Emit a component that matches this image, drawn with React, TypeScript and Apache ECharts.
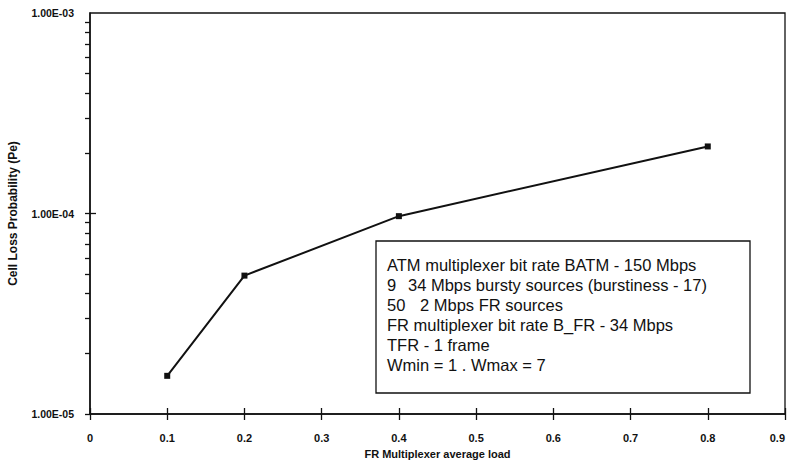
import React, { useEffect, useRef } from "react";
import * as echarts from "echarts";

const xValues = [0.1, 0.2, 0.4, 0.8];
const cellLoss = [1.55e-5, 4.9e-5, 9.7e-5, 2.16e-4];
const xTickValues = [0, 0.1, 0.2, 0.3, 0.4, 0.5, 0.6, 0.7, 0.8, 0.9];
const xTickLabels = ["0", "0.1", "0.2", "0.3", "0.4", "0.5", "0.6", "0.7", "0.8", "0.9"];
const yMajorValues = [1e-5, 1e-4, 1e-3];
const yTickLabels = ["1.00E-05", "1.00E-04", "1.00E-03"];
const yMinorValues = [
  2e-5, 3e-5, 4e-5, 5e-5, 6e-5, 7e-5, 8e-5, 9e-5,
  2e-4, 3e-4, 4e-4, 5e-4, 6e-4, 7e-4, 8e-4, 9e-4,
];
const xAxisTitle = "FR Multiplexer average load";
const yAxisTitle = "Cell Loss Probability (Pe)";
const noteLines: [string, string][] = [
  ["ATM multiplexer bit rate BATM - 150 Mbps", ""],
  ["9", "34 Mbps bursty sources (burstiness - 17)"],
  ["50", "2 Mbps FR sources"],
  ["FR multiplexer bit rate B_FR - 34 Mbps", ""],
  ["TFR - 1 frame", ""],
  ["Wmin = 1 . Wmax = 7", ""],
];

const FONT = "'Liberation Sans', Arial, sans-serif";

export default function App() {
  const ref = useRef<HTMLDivElement>(null);
  useEffect(() => {
    if (!ref.current) return;
    const chart = echarts.init(ref.current, undefined, { renderer: "svg" });

    const noteChildren: any[] = [
      {
        type: "rect",
        shape: { x: 0, y: 0, width: 374, height: 152 },
        style: { fill: "#fff", stroke: "#111", lineWidth: 1.3 },
      },
    ];
    const secondX = [0, 21, 33, 0, 0, 0];
    noteLines.forEach((ln, i) => {
      noteChildren.push({
        type: "text",
        x: 11,
        y: 24 + i * 20,
        style: {
          text: ln[0],
          font: `16.5px ${FONT}`,
          fill: "#111",
          textVerticalAlign: "middle",
        },
      });
      if (ln[1]) {
        noteChildren.push({
          type: "text",
          x: 11 + secondX[i],
          y: 24 + i * 20,
          style: {
            text: ln[1],
            font: `16.5px ${FONT}`,
            fill: "#111",
            textVerticalAlign: "middle",
          },
        });
      }
    });

    const axisText = { fontFamily: FONT, fontWeight: "bold" as const, color: "#111" };

    chart.setOption({
      animation: false,
      backgroundColor: "#fff",
      grid: {
        left: 90,
        right: 6,
        top: 13,
        bottom: 48,
        containLabel: false,
        outerBoundsMode: "none",
        show: true,
        borderColor: "#111",
        borderWidth: 1.3,
        backgroundColor: "transparent",
      },
      xAxis: [
        {
          type: "value",
          min: 0,
          max: 0.9,
          interval: 0.1,
          name: xAxisTitle,
          nameLocation: "middle",
          nameGap: 34,
          nameTextStyle: { ...axisText, fontSize: 11 },
          axisLine: { show: true, lineStyle: { color: "#111", width: 1.5 } },
          axisTick: { show: true, inside: false, length: 6, lineStyle: { color: "#111", width: 1.3 } },
          splitLine: { show: false },
          axisLabel: {
            margin: 18,
            ...axisText,
            fontSize: 11,
            showMaxLabel: true,
            alignMaxLabel: "right",
            formatter: (v: number) => {
              const idx = xTickValues.findIndex((t) => Math.abs(t - v) < 1e-6);
              return idx >= 0 ? xTickLabels[idx] : "";
            },
          },
        },
        {
          type: "value",
          min: 0,
          max: 0.9,
          interval: 0.1,
          position: "bottom",
          axisLine: { show: false },
          axisTick: { show: true, inside: true, length: 6, lineStyle: { color: "#111", width: 1.3 } },
          axisLabel: { show: false },
          splitLine: { show: false },
        },
      ],
      yAxis: [
        {
          type: "log",
          logBase: 10,
          min: 1e-5,
          max: 1e-3,
          name: yAxisTitle,
          nameLocation: "middle",
          nameGap: 71,
          nameTextStyle: { ...axisText, fontSize: 12 },
          axisLine: { show: true, lineStyle: { color: "#111", width: 1.5 } },
          axisTick: {
            show: true,
            inside: false,
            length: 5,
            customValues: [...yMajorValues, ...yMinorValues],
            lineStyle: { color: "#111", width: 1.3 },
          },
          splitLine: { show: false },
          minorTick: { show: false },
          axisLabel: {
            margin: 16,
            ...axisText,
            fontSize: 10.5,
            formatter: (v: number) => {
              const idx = yMajorValues.findIndex((t) => Math.abs(Math.log10(t) - Math.log10(v)) < 1e-6);
              return idx >= 0 ? yTickLabels[idx] : "";
            },
          },
        },
        {
          type: "log",
          logBase: 10,
          min: 1e-5,
          max: 1e-3,
          position: "left",
          axisLine: { show: false },
          axisTick: {
            show: true,
            inside: true,
            length: 6,
            customValues: [1e-4],
            lineStyle: { color: "#111", width: 1.3 },
          },
          axisLabel: { show: false },
          splitLine: { show: false },
        },
      ],
      series: [
        {
          type: "line",
          xAxisIndex: 0,
          yAxisIndex: 0,
          data: xValues.map((x, i) => [x, cellLoss[i]]),
          lineStyle: { color: "#111", width: 2 },
          itemStyle: { color: "#111" },
          symbol: "rect",
          symbolSize: 6,
          z: 5,
        },
      ],
      graphic: [
        {
          type: "group",
          x: 376,
          y: 241,
          z: 10,
          children: noteChildren,
        },
      ],
    });
    return () => chart.dispose();
  }, []);
  return <div ref={ref} style={{ width: 791, height: 462, position: "absolute", left: 0, top: 0 }} />;
}
